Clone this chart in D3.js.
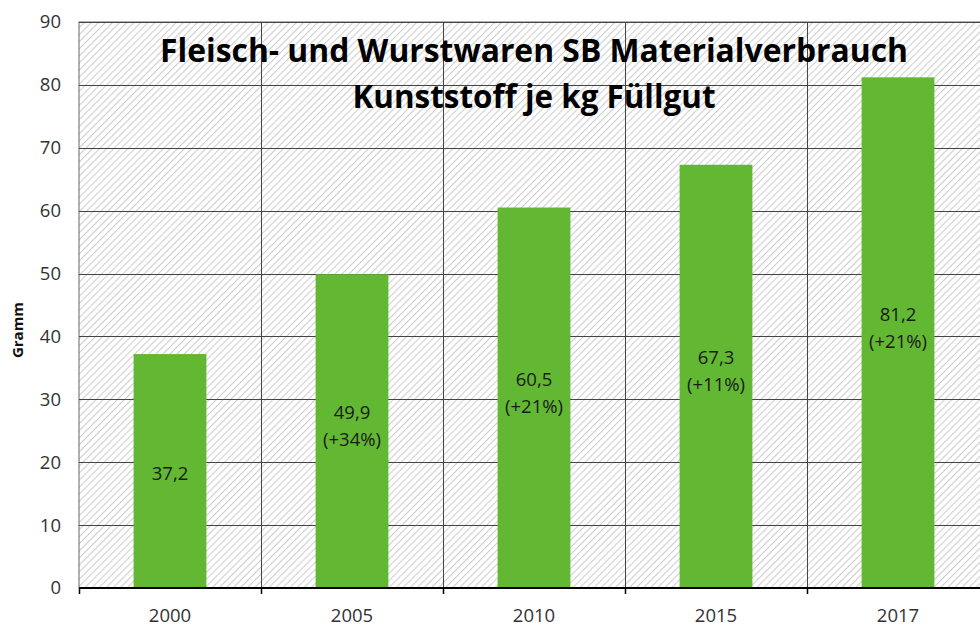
<!DOCTYPE html>
<html lang="de">
<head>
    <meta charset="UTF-8">
    <title>Fleisch- und Wurstwaren SB Materialverbrauch</title>
    <style>
        body { margin: 0; padding: 0; overflow: hidden; background: #fff; font-family: "Open Sans", sans-serif; }
        .tick-label { font-size: 18.5px; fill: #333; }
        .grid line { stroke: #444; stroke-width: 1px; }
        .bar-label { font-size: 18.5px; fill: #1a1a1a; }
    </style>
    <script src="https://d3js.org/d3.v7.min.js"></script>
</head>
<body>
    <div id="chart"></div>
    <script>
        // chart data
        const years = ['2000', '2005', '2010', '2015', '2017'];
        const gramm = [37.2, 49.9, 60.5, 67.3, 81.2];
        const changes = [null, '+34%', '+21%', '+11%', '+21%'];
        const yTicks = [0, 10, 20, 30, 40, 50, 60, 70, 80, 90];
        const titleLines = ['Fleisch- und Wurstwaren SB Materialverbrauch', 'Kunststoff je kg Füllgut'];

        const width = 980, height = 626;
        const plot = { left: 79, top: 22, right: 989, bottom: 588 };

        const svg = d3.select('#chart').append('svg')
            .attr('width', width)
            .attr('height', height);

        // hatched plot background
        const pat = svg.append('defs').append('pattern')
            .attr('id', 'hatch')
            .attr('patternUnits', 'userSpaceOnUse')
            .attr('width', 5).attr('height', 5)
            .attr('patternTransform', 'rotate(45)');
        pat.append('rect').attr('width', 5).attr('height', 5).attr('fill', '#fff');
        pat.append('line')
            .attr('x1', 0).attr('y1', 0).attr('x2', 0).attr('y2', 5)
            .attr('stroke', '#cfcfcf').attr('stroke-width', 2.2);

        const x = d3.scaleBand()
            .domain(years)
            .range([plot.left, plot.right])
            .paddingInner(0.6)
            .paddingOuter(0.3);

        const y = d3.scaleLinear()
            .domain([0, 90])
            .range([plot.bottom, plot.top]);

        svg.append('rect')
            .attr('x', plot.left).attr('y', plot.top)
            .attr('width', plot.right - plot.left)
            .attr('height', plot.bottom - plot.top)
            .attr('fill', 'url(#hatch)')
            .attr('stroke', '#666');

        // horizontal gridlines
        svg.append('g').attr('class', 'grid')
            .selectAll('line')
            .data(yTicks.slice(1))
            .join('line')
            .attr('x1', plot.left).attr('x2', plot.right)
            .attr('y1', d => Math.round(y(d)) + 0.5)
            .attr('y2', d => Math.round(y(d)) + 0.5);

        // vertical gridlines at category boundaries
        const step = x.step();
        const bounds = years.map((d, i) => plot.left + i * step);
        svg.append('g').attr('class', 'grid')
            .selectAll('line')
            .data(bounds.slice(1))
            .join('line')
            .attr('x1', d => Math.round(d) + 0.5).attr('x2', d => Math.round(d) + 0.5)
            .attr('y1', plot.top).attr('y2', plot.bottom);

        // bars
        svg.append('g')
            .selectAll('rect')
            .data(gramm)
            .join('rect')
            .attr('x', (d, i) => x(years[i]))
            .attr('width', x.bandwidth())
            .attr('y', d => y(d))
            .attr('height', d => y(0) - y(d))
            .attr('fill', '#62b733');

        // bar labels
        const labels = svg.append('g')
            .selectAll('text')
            .data(gramm)
            .join('text')
            .attr('class', 'bar-label')
            .attr('text-anchor', 'middle')
            .attr('x', (d, i) => x(years[i]) + x.bandwidth() / 2)
            .attr('y', d => (y(d) + y(0)) / 2);
        labels.each(function(d, i) {
            const t = d3.select(this);
            const val = d.toFixed(1).replace('.', ',');
            if (changes[i]) {
                t.append('tspan').attr('x', t.attr('x')).attr('dy', '-0.65em').text(val);
                t.append('tspan').attr('x', t.attr('x')).attr('dy', '1.46em').text('(' + changes[i] + ')');
            } else {
                t.append('tspan').attr('dy', '0.5em').text(val);
            }
        });

        // x axis baseline + ticks
        svg.append('line')
            .attr('x1', plot.left).attr('x2', plot.right)
            .attr('y1', plot.bottom).attr('y2', plot.bottom)
            .attr('stroke', '#000').attr('stroke-width', 2);
        svg.append('g')
            .selectAll('line')
            .data(bounds)
            .join('line')
            .attr('x1', d => Math.round(d) + 0.5).attr('x2', d => Math.round(d) + 0.5)
            .attr('y1', plot.bottom).attr('y2', plot.bottom + 6)
            .attr('stroke', '#000').attr('stroke-width', 1.5);

        // x labels
        svg.append('g')
            .selectAll('text')
            .data(years)
            .join('text')
            .attr('class', 'tick-label')
            .attr('text-anchor', 'middle')
            .attr('x', d => x(d) + x.bandwidth() / 2)
            .attr('y', 622)
            .text(d => d);

        // y labels
        svg.append('g')
            .selectAll('text')
            .data(yTicks)
            .join('text')
            .attr('class', 'tick-label')
            .attr('text-anchor', 'end')
            .attr('x', 61)
            .attr('y', d => y(d))
            .attr('dy', '0.35em')
            .text(d => d);

        // y axis title
        svg.append('text')
            .attr('transform', 'translate(23,330) rotate(-90)')
            .attr('text-anchor', 'middle')
            .style('font-size', '15px')
            .style('font-weight', 'bold')
            .attr('fill', '#111')
            .text('Gramm');

        // chart title
        const titleY = [62, 108];
        const titleW = [748, 363];
        svg.append('g')
            .selectAll('text')
            .data(titleLines)
            .join('text')
            .attr('x', 534)
            .attr('y', (d, i) => titleY[i])
            .attr('text-anchor', 'middle')
            .attr('textLength', (d, i) => titleW[i])
            .attr('lengthAdjust', 'spacingAndGlyphs')
            .style('font-size', '32px')
            .style('font-weight', 'bold')
            .attr('fill', '#000')
            .text(d => d);
    </script>
</body>
</html>
